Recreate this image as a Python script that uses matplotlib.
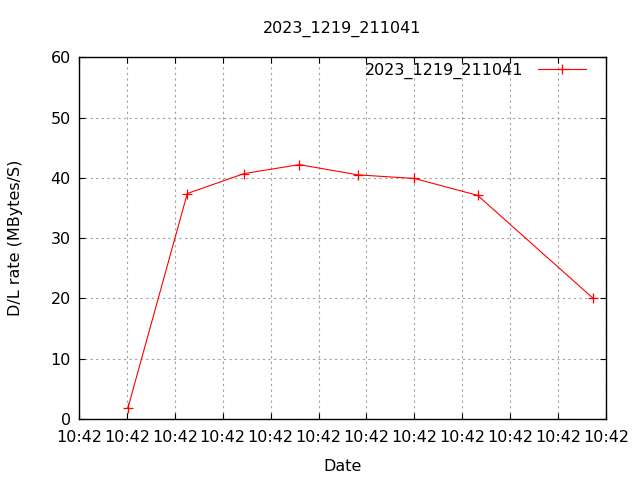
import matplotlib
matplotlib.use("Agg")
import matplotlib.pyplot as plt
import matplotlib.dates as mdates
import pandas as pd

times = ["10:42:05.1", "10:42:11.3", "10:42:17.2", "10:42:23.0",
         "10:42:29.1", "10:42:35.0", "10:42:41.6", "10:42:53.6"]
rates = [1.8, 37.4, 40.7, 42.2, 40.5, 39.9, 37.1, 20.1]
series_name = "2023_1219_211041"
x_start, x_end = "10:42:00", "10:42:55"

t = pd.to_datetime(["2023-12-19 " + s for s in times])
xs = pd.Timestamp("2023-12-19 " + x_start)
xe = pd.Timestamp("2023-12-19 " + x_end)

plt.rcParams['font.family'] = ['DejaVu Sans']
fig = plt.figure(figsize=(6.4, 4.8), dpi=100)
ax = fig.add_axes([79/640, 1-419/480, (606-79)/640, (419-57.3)/480])

ax.plot(t, rates, color='red', lw=0.8, marker='+', markersize=6.5, mew=0.9,
        label=series_name)
ax.set_xlim(xs, xe)
ax.set_ylim(0, 60)
ax.set_yticks(range(0, 61, 10))
ax.xaxis.set_major_locator(mdates.SecondLocator(bysecond=range(0, 60, 5)))
ax.xaxis.set_major_formatter(mdates.DateFormatter("%H:%M"))

ax.grid(True, color='#a0a0a0', linestyle=(0, (2, 3)), lw=0.8)
ax.tick_params(direction='in', length=4, width=0.8, top=True, right=True,
               labelsize=11.5, colors='black', pad=6)
ax.tick_params(axis='x', pad=8)
for s in ax.spines.values():
    s.set_linewidth(1.0)

ax.set_title(series_name, fontsize=11.5, pad=18)
ax.set_xlabel("Date", fontsize=11.5, labelpad=10)
ax.set_ylabel("D/L rate (MBytes/S)", fontsize=11.5, labelpad=20)

leg = ax.legend(loc='upper right', frameon=False, markerfirst=False,
                handlelength=3.0, numpoints=1, fontsize=11.5,
                borderaxespad=0.2, handletextpad=0.9,
                bbox_to_anchor=(0.98, 1.012))

fig.savefig("out.png", dpi=100)
